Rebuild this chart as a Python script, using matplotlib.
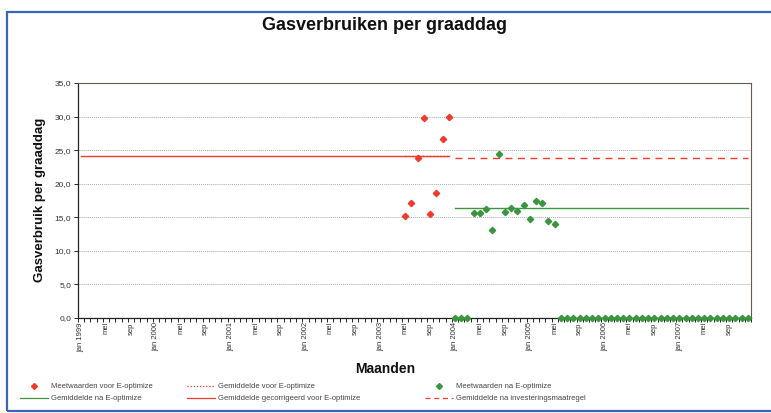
import matplotlib.pyplot as plt
from matplotlib.lines import Line2D
from matplotlib.patches import Rectangle

plt.rcParams['font.family'] = ['Liberation Sans', 'DejaVu Sans']

# maanden: jan 1999 .. dec 2007 (categorie-as)
years = [1999, 2000, 2001, 2002, 2003, 2004, 2005, 2006, 2007]
month_names = ['jan', 'feb', 'mrt', 'apr', 'mei', 'jun', 'jul', 'aug', 'sep', 'okt', 'nov', 'dec']

# meetwaarden voor E-optimize (mei 2003 - dec 2003)
red_idx = [52, 53, 54, 55, 56, 57, 58, 59]
red_vals = [15.2, 17.2, 23.9, 29.8, 15.5, 18.6, 26.7, 30.0]

# meetwaarden na E-optimize (jan 2004 - dec 2007)
green_idx = list(range(60, 108))
green_vals = [0.0, 0.0, 0.0, 15.7, 15.7, 16.3, 13.1, 24.5, 15.8, 16.4, 16.0, 16.9,
              14.7, 17.4, 17.2, 14.4, 14.0, 0.0, 0.0, 0.0, 0.0, 0.0, 0.0, 0.0,
              0.0, 0.0, 0.0, 0.0, 0.0, 0.0, 0.0, 0.0, 0.0, 0.0, 0.0, 0.0,
              0.0, 0.0, 0.0, 0.0, 0.0, 0.0, 0.0, 0.0, 0.0, 0.0, 0.0, 0.0]

avg_voor = 24.1
avg_corr_voor = 24.1
avg_na = 16.4
avg_invest = 23.8

red = '#ee3b2b'
green = '#3a9440'

labels = []
for y in years:
    for m, name in enumerate(month_names):
        labels.append(name + (' %d' % y if m == 0 else ''))

fig = plt.figure(figsize=(7.71, 4.13), dpi=100)
ax = fig.add_axes([78/771, 1-318/413, 673/771, 235/413])

ax.plot([0, 59], [avg_corr_voor]*2, color=red, lw=1.0)
ax.plot([52, 59], [avg_voor]*2, color=red, lw=1.0, ls=(0, (1, 1.5)))
ax.plot([60, 107], [avg_invest]*2, color=red, lw=1.0, ls=(0, (5, 4)))
ax.plot([60, 107], [avg_na]*2, color=green, lw=1.0)
ax.plot(red_idx, red_vals, ls='none', marker='D', ms=3.2, color=red, clip_on=False, zorder=5)
ax.plot(green_idx, green_vals, ls='none', marker='D', ms=3.2, color=green, clip_on=False, zorder=5)

ax.set_xlim(-0.5, 107.5)
ax.set_ylim(0, 35)
ax.set_yticks(range(0, 36, 5))
ax.set_yticklabels(['%d,0' % v for v in range(0, 36, 5)], fontsize=6, color='#333333')
ax.yaxis.grid(True, color='#aaaaaa', ls=(0, (1, 1)), lw=0.7)
ax.set_axisbelow(True)

ax.set_xticks(range(0, 108, 4))
ax.set_xticklabels(labels[::4], rotation=90, fontsize=5.5, color='#333333')
ax.set_xticks([i - 0.5 for i in range(109)], minor=True)
ax.tick_params(axis='x', which='major', length=0, pad=3)
ax.tick_params(axis='x', which='minor', length=3, direction='out', width=0.6)
ax.tick_params(axis='y', length=3, width=0.6, pad=2)

for s in ['left', 'bottom']:
    ax.spines[s].set_color('#222222')
    ax.spines[s].set_linewidth(0.9)
for s in ['top', 'right']:
    ax.spines[s].set_color('#6b5a4a')
    ax.spines[s].set_linewidth(0.8)

fig.text(385/771, 1-25/413, 'Gasverbruiken per graaddag', ha='center', va='center',
         fontsize=13, fontweight='bold', color='#111111')
fig.text(40/771, 1-200/413, 'Gasverbruik per graaddag', rotation=90, ha='center', va='center',
         fontsize=9.5, fontweight='bold', color='#111111')
fig.text(385/771, 1-369/413, 'Maanden', ha='center', va='center',
         fontsize=10, fontweight='bold', color='#111111')

h_red = Line2D([], [], ls='none', marker='D', ms=3, color=red)
h_green = Line2D([], [], ls='none', marker='D', ms=3, color=green)
h_dot = Line2D([], [], color=red, lw=0.9, ls=(0, (1, 1.5)))
h_gline = Line2D([], [], color=green, lw=0.9)
h_rline = Line2D([], [], color=red, lw=0.9)
h_dash = Line2D([], [], color=red, lw=0.9, ls=(0, (4, 3)))

legend_cols = [
    ([h_red, h_gline], ['Meetwaarden voor E-optimize', 'Gemiddelde na E-optimize'], 20),
    ([h_dot, h_rline], ['Gemiddelde voor E-optimize', 'Gemiddelde gecorrigeerd voor E-optimize'], 187),
    ([h_green, h_dash], ['Meetwaarden na E-optimize', 'Gemiddelde na investeringsmaatregel'], 425),
]
for handles, texts, x0 in legend_cols:
    leg = fig.legend(handles, texts, loc='upper left', bbox_to_anchor=(x0/771, 1-383/413),
                     frameon=False, fontsize=5.5, borderpad=0, borderaxespad=0,
                     handlelength=3.6, handletextpad=0.4, labelspacing=0.6)
    for t in leg.get_texts():
        t.set_color('#444444')

fig.add_artist(Rectangle((7/771, 2/413), 780/771, 399/413, transform=fig.transFigure,
                         fill=False, edgecolor='#3f63b5', lw=1.6))

fig.savefig('out.png', dpi=100)
